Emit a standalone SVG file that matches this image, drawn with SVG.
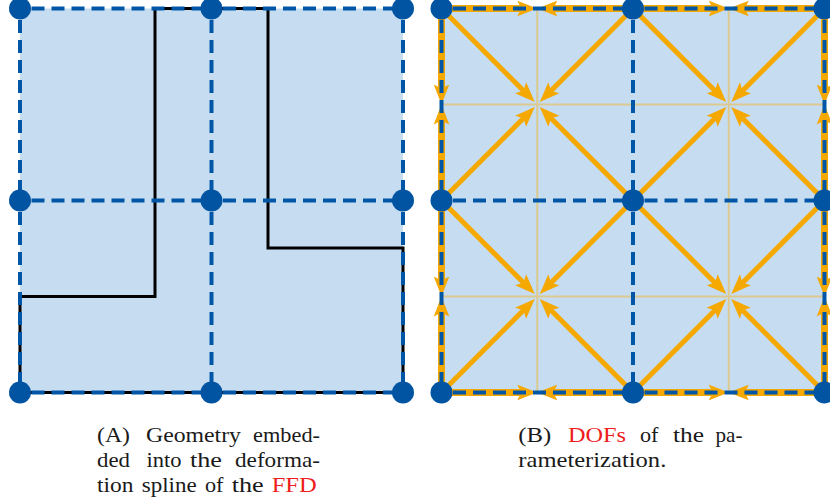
<svg xmlns="http://www.w3.org/2000/svg" width="830" height="502" viewBox="0 0 830 502">
<style>
.fill{fill:#c6dcf0;stroke:none}
.dash{fill:none;stroke:#0056a6;stroke-width:4;stroke-dasharray:13 7;stroke-dashoffset:8.5}
.node{fill:#0054a2}
.geo{fill:none;stroke:#000;stroke-width:3;stroke-linejoin:miter}
.grid{fill:none;stroke:#dcc990;stroke-width:2}
.diag{fill:none;stroke:#f5a800;stroke-width:5;marker-end:url(#ah)}
.bnd{fill:none;stroke:#f5a800;stroke-width:7;marker-end:url(#ah)}
text{font-family:"Liberation Serif","Times New Roman",serif;font-size:22px;fill:#1a1a1a}
.red{fill:#ee1c1c}
</style>
<defs>
<marker id="ah" markerUnits="userSpaceOnUse" markerWidth="22" markerHeight="18" viewBox="0 -9 22 18" refX="4" refY="0" orient="auto">
<path d="M0,-7.8 L20,0 L0,7.8 L4,0 z" fill="#f5a800"/>
</marker>
</defs>

<!-- Panel A -->
<g id="panelA-background">
<rect class="fill" x="20" y="8.5" width="383" height="384"/>
</g>
<g id="geometry">
<path class="geo" d="M155,8.5 V296.5 H20 V392.5 H403 V248 H268 V8.5 Z"/>
</g>
<g id="connectorsA">
<path class="dash" d="M20,8.5 H211.5 M211.5,8.5 H403 M20,200.5 H211.5 M211.5,200.5 H403 M20,392.5 H211.5 M211.5,392.5 H403 M20,8.5 V200.5 M20,200.5 V392.5 M211.5,8.5 V200.5 M211.5,200.5 V392.5 M403,8.5 V200.5 M403,200.5 V392.5"/>
</g>
<g id="a-n00"><circle class="node" cx="20" cy="8.5" r="11"/></g>
<g id="a-n10"><circle class="node" cx="211.5" cy="8.5" r="11"/></g>
<g id="a-n20"><circle class="node" cx="403" cy="8.5" r="11"/></g>
<g id="a-n01"><circle class="node" cx="20" cy="200.5" r="11"/></g>
<g id="a-n11"><circle class="node" cx="211.5" cy="200.5" r="11"/></g>
<g id="a-n21"><circle class="node" cx="403" cy="200.5" r="11"/></g>
<g id="a-n02"><circle class="node" cx="20" cy="392.5" r="11"/></g>
<g id="a-n12"><circle class="node" cx="211.5" cy="392.5" r="11"/></g>
<g id="a-n22"><circle class="node" cx="403" cy="392.5" r="11"/></g>

<!-- Panel B -->
<g id="panelB-background">
<rect class="fill" x="441.5" y="8.5" width="383" height="384"/>
<path class="grid" d="M537.25,8.5 V392.5 M728.75,8.5 V392.5 M441.5,104.5 H824.5 M441.5,296.5 H824.5"/>
</g>
<g id="connectorsB">
<!-- boundary DOF arrows -->
<path class="bnd" d="M441.5,8.5 H521.25"/>
<path class="bnd" d="M633,8.5 H553.25"/>
<path class="bnd" d="M633,8.5 H712.75"/>
<path class="bnd" d="M824.5,8.5 H744.75"/>
<path class="bnd" d="M441.5,392.5 H521.25"/>
<path class="bnd" d="M633,392.5 H553.25"/>
<path class="bnd" d="M633,392.5 H712.75"/>
<path class="bnd" d="M824.5,392.5 H744.75"/>
<path class="bnd" d="M441.5,8.5 V88.5"/>
<path class="bnd" d="M441.5,200.5 V120.5"/>
<path class="bnd" d="M441.5,200.5 V280.5"/>
<path class="bnd" d="M441.5,392.5 V312.5"/>
<path class="bnd" d="M824.5,8.5 V88.5"/>
<path class="bnd" d="M824.5,200.5 V120.5"/>
<path class="bnd" d="M824.5,200.5 V280.5"/>
<path class="bnd" d="M824.5,392.5 V312.5"/>
<!-- interior diagonal DOF arrows -->
<path class="diag" d="M441.5,8.5 L523.45,90.7"/>
<path class="diag" d="M633,8.5 L551.05,90.7"/>
<path class="diag" d="M441.5,200.5 L523.45,118.3"/>
<path class="diag" d="M633,200.5 L551.05,118.3"/>
<path class="diag" d="M633,8.5 L714.95,90.7"/>
<path class="diag" d="M824.5,8.5 L742.55,90.7"/>
<path class="diag" d="M633,200.5 L714.95,118.3"/>
<path class="diag" d="M824.5,200.5 L742.55,118.3"/>
<path class="diag" d="M441.5,200.5 L523.45,282.7"/>
<path class="diag" d="M633,200.5 L551.05,282.7"/>
<path class="diag" d="M441.5,392.5 L523.45,310.3"/>
<path class="diag" d="M633,392.5 L551.05,310.3"/>
<path class="diag" d="M633,200.5 L714.95,282.7"/>
<path class="diag" d="M824.5,200.5 L742.55,282.7"/>
<path class="diag" d="M633,392.5 L714.95,310.3"/>
<path class="diag" d="M824.5,392.5 L742.55,310.3"/>
<!-- spline mesh -->
<path class="dash" d="M441.5,8.5 H633 M633,8.5 H824.5 M441.5,200.5 H633 M633,200.5 H824.5 M441.5,392.5 H633 M633,392.5 H824.5 M441.5,8.5 V200.5 M441.5,200.5 V392.5 M633,8.5 V200.5 M633,200.5 V392.5 M824.5,8.5 V200.5 M824.5,200.5 V392.5"/>
</g>
<g id="b-n00"><circle class="node" cx="441.5" cy="8.5" r="11"/></g>
<g id="b-n10"><circle class="node" cx="633" cy="8.5" r="11"/></g>
<g id="b-n20"><circle class="node" cx="824.5" cy="8.5" r="11"/></g>
<g id="b-n01"><circle class="node" cx="441.5" cy="200.5" r="11"/></g>
<g id="b-n11"><circle class="node" cx="633" cy="200.5" r="11"/></g>
<g id="b-n21"><circle class="node" cx="824.5" cy="200.5" r="11"/></g>
<g id="b-n02"><circle class="node" cx="441.5" cy="392.5" r="11"/></g>
<g id="b-n12"><circle class="node" cx="633" cy="392.5" r="11"/></g>
<g id="b-n22"><circle class="node" cx="824.5" cy="392.5" r="11"/></g>

<!-- Captions -->
<g id="captionA">
<text x="97" y="441.5" textLength="33" lengthAdjust="spacingAndGlyphs">(A)</text>
<text x="146" y="441.5" textLength="95" lengthAdjust="spacingAndGlyphs">Geometry</text>
<text x="253" y="441.5" textLength="67" lengthAdjust="spacingAndGlyphs">embed-</text>
<text x="97" y="467" textLength="33" lengthAdjust="spacingAndGlyphs">ded</text>
<text x="146.5" y="467" textLength="35" lengthAdjust="spacingAndGlyphs">into</text>
<text x="190" y="467" textLength="32" lengthAdjust="spacingAndGlyphs">the</text>
<text x="235" y="467" textLength="85" lengthAdjust="spacingAndGlyphs">deforma-</text>
<text x="97" y="492" textLength="36.5" lengthAdjust="spacingAndGlyphs">tion</text>
<text x="141.7" y="492" textLength="55" lengthAdjust="spacingAndGlyphs">spline</text>
<text x="205" y="492" textLength="18.5" lengthAdjust="spacingAndGlyphs">of</text>
<text x="231.7" y="492" textLength="32" lengthAdjust="spacingAndGlyphs">the</text>
<text class="red" x="271.7" y="492" textLength="45" lengthAdjust="spacingAndGlyphs">FFD</text>
</g>
<g id="captionB">
<text x="518.3" y="441.5" textLength="33" lengthAdjust="spacingAndGlyphs">(B)</text>
<text class="red" x="568" y="441.5" textLength="58" lengthAdjust="spacingAndGlyphs">DOFs</text>
<text x="640" y="441.5" textLength="18.5" lengthAdjust="spacingAndGlyphs">of</text>
<text x="673" y="441.5" textLength="31" lengthAdjust="spacingAndGlyphs">the</text>
<text x="715.5" y="441.5" textLength="27" lengthAdjust="spacingAndGlyphs">pa-</text>
<text x="518.3" y="467" textLength="148" lengthAdjust="spacingAndGlyphs">rameterization.</text>
</g>
</svg>
